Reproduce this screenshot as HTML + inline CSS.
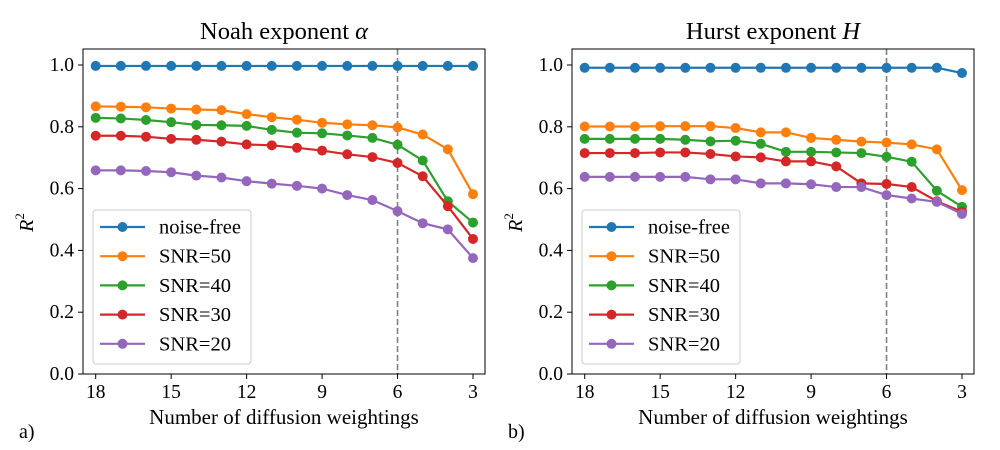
<!DOCTYPE html>
<html><head><meta charset="utf-8"><style>
html,body{margin:0;padding:0;background:#fff;}
svg{display:block;font-family:"Liberation Serif",serif;}
</style></head><body>
<svg id="c" width="1000" height="450" viewBox="0 0 1000 450" xmlns="http://www.w3.org/2000/svg"></svg>
<script>
const xVals = [18,17,16,15,14,13,12,11,10,9,8,7,6,5,4,3];
const xTicks = [18,15,12,9,6,3];
const yTicks = [0,0.2,0.4,0.6,0.8,1.0];
const seriesNames = ["noise-free","SNR=50","SNR=40","SNR=30","SNR=20"];
const seriesColors = ["#1f77b4","#ff7f0e","#2ca02c","#d62728","#9467bd"];
const alphaNoiseFree = [0.997,0.997,0.997,0.997,0.997,0.997,0.997,0.997,0.997,0.997,0.997,0.997,0.997,0.997,0.997,0.997];
const alphaSnr50 = [0.866,0.865,0.863,0.859,0.856,0.854,0.841,0.831,0.823,0.813,0.808,0.805,0.798,0.775,0.727,0.582];
const alphaSnr40 = [0.829,0.827,0.822,0.815,0.806,0.805,0.803,0.790,0.781,0.779,0.772,0.764,0.742,0.691,0.559,0.490];
const alphaSnr30 = [0.771,0.771,0.768,0.761,0.758,0.752,0.743,0.740,0.732,0.723,0.711,0.702,0.683,0.640,0.543,0.437];
const alphaSnr20 = [0.659,0.659,0.657,0.653,0.642,0.636,0.624,0.616,0.609,0.600,0.579,0.563,0.527,0.488,0.468,0.375];
const hurstNoiseFree = [0.991,0.991,0.991,0.991,0.991,0.991,0.991,0.991,0.991,0.991,0.991,0.991,0.991,0.991,0.991,0.974];
const hurstSnr50 = [0.801,0.801,0.801,0.802,0.802,0.802,0.796,0.782,0.782,0.764,0.758,0.752,0.749,0.743,0.727,0.595];
const hurstSnr40 = [0.761,0.761,0.761,0.761,0.758,0.753,0.755,0.745,0.719,0.719,0.717,0.715,0.703,0.687,0.593,0.541];
const hurstSnr30 = [0.715,0.715,0.715,0.717,0.717,0.712,0.704,0.701,0.688,0.688,0.672,0.617,0.615,0.605,0.559,0.525];
const hurstSnr20 = [0.638,0.638,0.638,0.638,0.638,0.630,0.630,0.617,0.617,0.614,0.605,0.605,0.579,0.568,0.557,0.518];
const vlineX = 6;

const NS="http://www.w3.org/2000/svg";
const svg=document.getElementById('c');
function mk(tag,attrs,parent){const e=document.createElementNS(NS,tag);for(const k in attrs)e.setAttribute(k,attrs[k]);(parent||svg).appendChild(e);return e;}

function panel(ox,title,titleVar,data,tag,label){
  const L=ox,R=ox+402,T=49,B=374;
  const xs=v=>L+12.7+(18-v)*(377.3/15);
  const ys=v=>B-v*309;
  const g=mk('g',{});
  
  
  for(const t of xTicks){
    const tl=mk('line',{x1:xs(t),x2:xs(t),y1:B,y2:B+5,stroke:'#000','stroke-width':1},g);
    
    const tx=mk('text',{x:xs(t),y:B+24,'text-anchor':'middle','font-size':19.5},g);
    tx.textContent=t;
    
  }
  for(const t of yTicks){
    const tl=mk('line',{x1:L-5,x2:L,y1:ys(t),y2:ys(t),stroke:'#000','stroke-width':1},g);
    
    const tx=mk('text',{x:L-9,y:ys(t)+6,'text-anchor':'end','font-size':19.5},g);
    tx.textContent=t.toFixed(1);
    
  }
  const vl=mk('line',{x1:xs(vlineX),x2:xs(vlineX),y1:T,y2:B,stroke:'#808080','stroke-width':1.6,'stroke-dasharray':'6,3'},g);
  
  data.forEach((arr,si)=>{
    const sg=mk('g',{},g);
    
    
    const pts=arr.map((v,i)=>xs(xVals[i])+','+ys(v)).join(' ');
    mk('polyline',{points:pts,fill:'none',stroke:seriesColors[si],'stroke-width':2.2},sg);
    arr.forEach((v,i)=>{
      const c=mk('circle',{cx:xs(xVals[i]),cy:ys(v),r:5,fill:seriesColors[si]},sg);
      
    });
  });
  const fr=mk('rect',{x:L,y:T,width:R-L,height:B-T,fill:'none',stroke:'#000','stroke-width':1},g);
  
  const lg=mk('g',{},g);
  
  mk('rect',{x:L+10,y:210,width:158,height:154,rx:3,fill:'#fff','fill-opacity':0.8,stroke:'#ccc','stroke-width':1},lg);
  seriesNames.forEach((n,i)=>{
    const y=227+i*29.2;
    const e=mk('g',{},lg);
    
    mk('line',{x1:L+17,x2:L+62,y1:y,y2:y,stroke:seriesColors[i],'stroke-width':2.2},e);
    mk('circle',{cx:L+39.5,cy:y,r:5,fill:seriesColors[i]},e);
    const t=mk('text',{x:L+76,y:y+6.5,'font-size':20.5},e);t.textContent=n;
  });
  const tt=mk('text',{x:(L+R)/2,y:39,'text-anchor':'middle','font-size':24.5},g);
  tt.innerHTML=title+' <tspan font-style="italic">'+titleVar+'</tspan>';
  
  const xl=mk('text',{x:(L+R)/2,y:424,'text-anchor':'middle','font-size':21},g);
  xl.textContent='Number of diffusion weightings';
  
  const yl=mk('text',{x:0,y:0,'font-size':20,'font-style':'italic',transform:`translate(${L-50},${(T+B)/2+11}) rotate(-90)`,'text-anchor':'middle'},g);
  yl.innerHTML='R<tspan font-size="13" dy="-9" font-style="normal">2</tspan>';
  
  const pl=mk('text',{x:L-64,y:438,'font-size':20},g);
  pl.textContent=label;
  
}
panel(83,'Noah exponent','α',[alphaNoiseFree,alphaSnr50,alphaSnr40,alphaSnr30,alphaSnr20],'alpha','a)');
panel(572,'Hurst exponent','H',[hurstNoiseFree,hurstSnr50,hurstSnr40,hurstSnr30,hurstSnr20],'hurst','b)');
</script>
</body></html>
